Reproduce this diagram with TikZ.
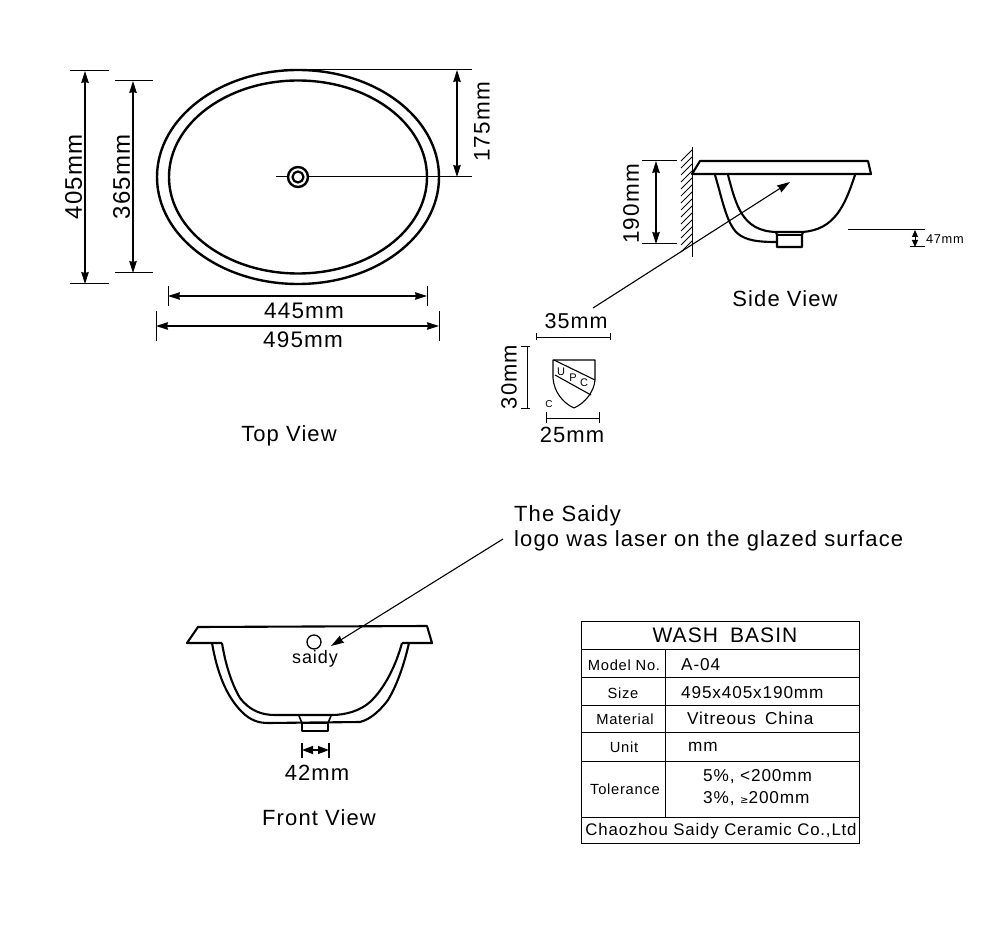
\documentclass[tikz,border=0pt]{standalone}
\usepackage{fontspec}
\setmainfont{Liberation Sans}
\newfontfamily\lsp[LetterSpace=5]{Liberation Sans}
\usetikzlibrary{arrows.meta}
\newcommand{\fs}[1]{\fontsize{#1}{#1}\lsp\selectfont}
\tikzset{
  x=1pt,y=-1pt,
  thin line/.style={line width=1pt,black},
  body/.style={line width=2.1pt,black,line join=round},
  dimen/.style={line width=1.1pt,black,{Stealth[length=12pt,width=7.5pt,inset=1pt]}-{Stealth[length=12pt,width=7.5pt,inset=1pt]}},
  lead/.style={line width=1.1pt,black,-{Stealth[length=13pt,width=8pt,inset=1pt]}},
  lab/.style={inner sep=0pt,font=\fs{22.5}},
  view/.style={inner sep=0pt,font=\fs{22}},
  cell/.style={inner sep=0pt,font=\fs{14.7}},
  val/.style={inner sep=0pt,anchor=west,font=\fs{17.2}},
}
\begin{document}
\begin{tikzpicture}
\useasboundingbox (0,0) rectangle (1004,925);
% ===== top view
\coordinate (a405) at (85,71); \coordinate (b405) at (85,284);
\coordinate (a365) at (133,81); \coordinate (b365) at (133,273);
\coordinate (a175) at (457,70); \coordinate (b175) at (457,177);
\coordinate (a445) at (168,296); \coordinate (b445) at (427,296);
\coordinate (a495) at (156,326); \coordinate (b495) at (439,326);
\draw[body,line width=2.4pt] (298,177) ellipse [x radius=141,y radius=107];
\draw[body,line width=2.4pt] (298,177) ellipse [x radius=129,y radius=96.5];
\draw[thin line] (276,177) -- (472,177);
\draw[body,line width=2.4pt,fill=white] (298,177) circle (10);
\draw[body,line width=2.2pt,fill=white] (298,177) circle (5.5);
\draw[thin line] (70,71) -- (109,71) (70,284) -- (109,284);
\draw[thin line] (115,81) -- (153,81) (115,273) -- (153,273);
\draw[thin line] (284,70) -- (472,70);
\draw[thin line] (168,286) -- (168,306) (427,286) -- (427,306);
\draw[thin line] (156,311) -- (156,341) (439,311) -- (439,341);
\draw[dimen] (a405) -- (b405);
\draw[dimen] (a365) -- (b365);
\draw[dimen] (a175) -- (b175);
\draw[dimen] (a445) -- (b445);
\draw[dimen] (a495) -- (b495);
\node[lab,font=\fs{24},rotate=90] (t405) at (73.5,177) {405mm};
\node[lab,font=\fs{24},rotate=90] (t365) at (121.5,177) {365mm};
\node[lab,rotate=90] (t175) at (482,122) {175mm};
\node[lab] (t445) at (304,311) {445mm};
\node[lab] (t495) at (303,340) {495mm};
\node[view] (topview) at (289,436) {Top View};
% ===== side view
\draw[thin line] (692,147) -- (692,257);
\foreach \y in {150,157,...,241} \draw[line width=.8pt] (692,\y) -- (681,\y+11);
\draw[body] (692,174) -- (700,161) -- (868,161) -- (871,174) -- cycle;
\draw[body] (715,175) .. controls (722,198) and (726,222) .. (737,233) .. controls (746,241) and (760,242) .. (776,242);
\draw[body] (728,175) .. controls (736,205) and (742,231) .. (776,232) -- (802,232) .. controls (835,230) and (845,205) .. (855,175);
\draw[body] (776,232) -- (777,235) -- (777,247) -- (802,247) -- (802,235) -- (803,232);
\draw[body,line width=1.6pt] (777,235) -- (802,235);
\coordinate (a190) at (656,161); \coordinate (b190) at (656,244);
\draw[thin line] (642,161) -- (677,161) (642,244) -- (677,244);
\draw[dimen] (a190) -- (b190);
\node[lab,rotate=90] (t190) at (631,204) {190mm};
\coordinate (a47) at (915,230); \coordinate (b47) at (915,247);
\draw[thin line] (848,230) -- (925,230) (910,247) -- (925,247);
\draw[line width=1pt,{Stealth[length=7pt,width=6pt,inset=0pt]}-{Stealth[length=7pt,width=6pt,inset=0pt]}] (a47) -- (b47);
\node[inner sep=0pt,anchor=west,font=\fs{12.8}] (t47) at (926,239) {47mm};
\node[view] (sideview) at (785,299) {Side View};
\coordinate (logoa) at (593,308); \coordinate (logob) at (790,182);
\draw[lead] (logoa) -- (logob);
% ===== UPC mark
\node[lab,font=\fs{21.5}] (t35) at (576,321) {35mm};
\draw[thin line] (536,337) -- (610,337) (536,333) -- (536,340) (610,333) -- (610,340);
\draw[thin line] (527,346) -- (527,408) (521,346) -- (530,346) (521,408) -- (530,408);
\node[lab,font=\fs{22},rotate=90] (t30) at (509,377) {30mm};
\draw[line width=1.1pt,line join=round] (553,360) -- (595,360) -- (595,380) .. controls (594,392) and (585,403) .. (574,408) .. controls (563,403) and (554,392) .. (553,378) -- cycle;
\draw[line width=1.1pt] (554,360) -- (595,380) (555,375) -- (591,395);
\node[inner sep=0pt,font=\fs{11}] (upcu) at (561,372) {U};
\node[inner sep=0pt,font=\fs{11}] (upcp) at (573,378) {P};
\node[inner sep=0pt,font=\fs{11}] (upcc) at (584,383) {C};
\node[inner sep=0pt,font=\fs{10}] (upcs) at (549,404) {C};
\draw[thin line] (546,418) -- (599,418) (546,412) -- (546,423) (599,412) -- (599,423);
\node[lab,font=\fs{22}] (t25) at (572,435) {25mm};
% ===== note
\node[inner sep=0pt,anchor=west,font=\fs{22}] (note1) at (514,516) {The Saidy};
\node[inner sep=0pt,anchor=west,font=\fs{22}] (note2) at (514,541) {logo was laser on the glazed surface};
\coordinate (notea) at (503,539); \coordinate (noteb) at (331,646);
\draw[lead] (notea) -- (noteb);
% ===== front view
\draw[body] (222,643) -- (187,643) -- (198,627) -- (427,626) -- (432,643) -- (402,643);
\draw[body] (212,643) .. controls (217,672) and (226,696) .. (242,712) .. controls (250,720) and (258,723) .. (268,723) -- (360,722) .. controls (372,719) and (382,708) .. (388,700) .. controls (397,685) and (404,665) .. (409,643);
\draw[body] (222,643) .. controls (225,662) and (231,683) .. (240,698) .. controls (250,711) and (262,715) .. (275,715) -- (332,715) .. controls (345,715) and (360,711) .. (370,702) .. controls (385,688) and (396,665) .. (402,643);
\draw[body,line width=1.6pt] (299,716) -- (302,723) -- (302,731) -- (328,731) -- (328,723) -- (331,716);
\draw[body,line width=1.6pt] (302,723) -- (328,723);
\draw[line width=1.3pt] (314,642) circle (7);
\node[inner sep=0pt,font=\fs{18}] (saidy) at (315,659) {saidy};
\coordinate (a42) at (302,750); \coordinate (b42) at (329,750);
\draw[line width=1.4pt] (302,743) -- (302,758) (329,743) -- (329,758);
\draw[line width=1.4pt,{Stealth[length=11pt,width=8pt,inset=0pt]}-{Stealth[length=11pt,width=8pt,inset=0pt]}] (a42) -- (b42);
\node[lab,font=\fs{22}] (t42) at (317,773) {42mm};
\node[view] (frontview) at (319,818) {Front View};
% ===== table
\draw[line width=.9pt] (581,621) rectangle (859,843);
\foreach \y in {649,677,705,732,761,817} \draw[line width=.9pt] (581,\y) -- (859,\y);
\draw[line width=.9pt] (665,649) -- (665,817);
\node[inner sep=0pt,font=\fs{21}] (title) at (725,635) {WASH\hspace{.25em} BASIN};
\node[cell] (c1) at (624,665) {Model No.};
\node[cell] (c2) at (623,693) {Size};
\node[cell] (c3) at (625,719) {Material};
\node[cell] (c4) at (624,747) {Unit};
\node[cell] (c5) at (625,789) {Tolerance};
\node[val] (v1) at (681,665) {A-04};
\node[val] (v2) at (681,693) {495x405x190mm};
\node[val] (v3) at (687,718) {Vitreous\hspace{.2em} China};
\node[val] (v4) at (688,747) {mm};
\node[val] (v5) at (703,777) {5\%, <200mm};
\node[val] (v6) at (703,799) {3\%, {\fontsize{10}{10}\fontspec{DejaVu Sans}≥}200mm};
\node[inner sep=0pt,font=\fs{16.8}] (maker) at (721,831) {Chaozhou Saidy Ceramic Co.,Ltd};
\end{tikzpicture}
\end{document}
